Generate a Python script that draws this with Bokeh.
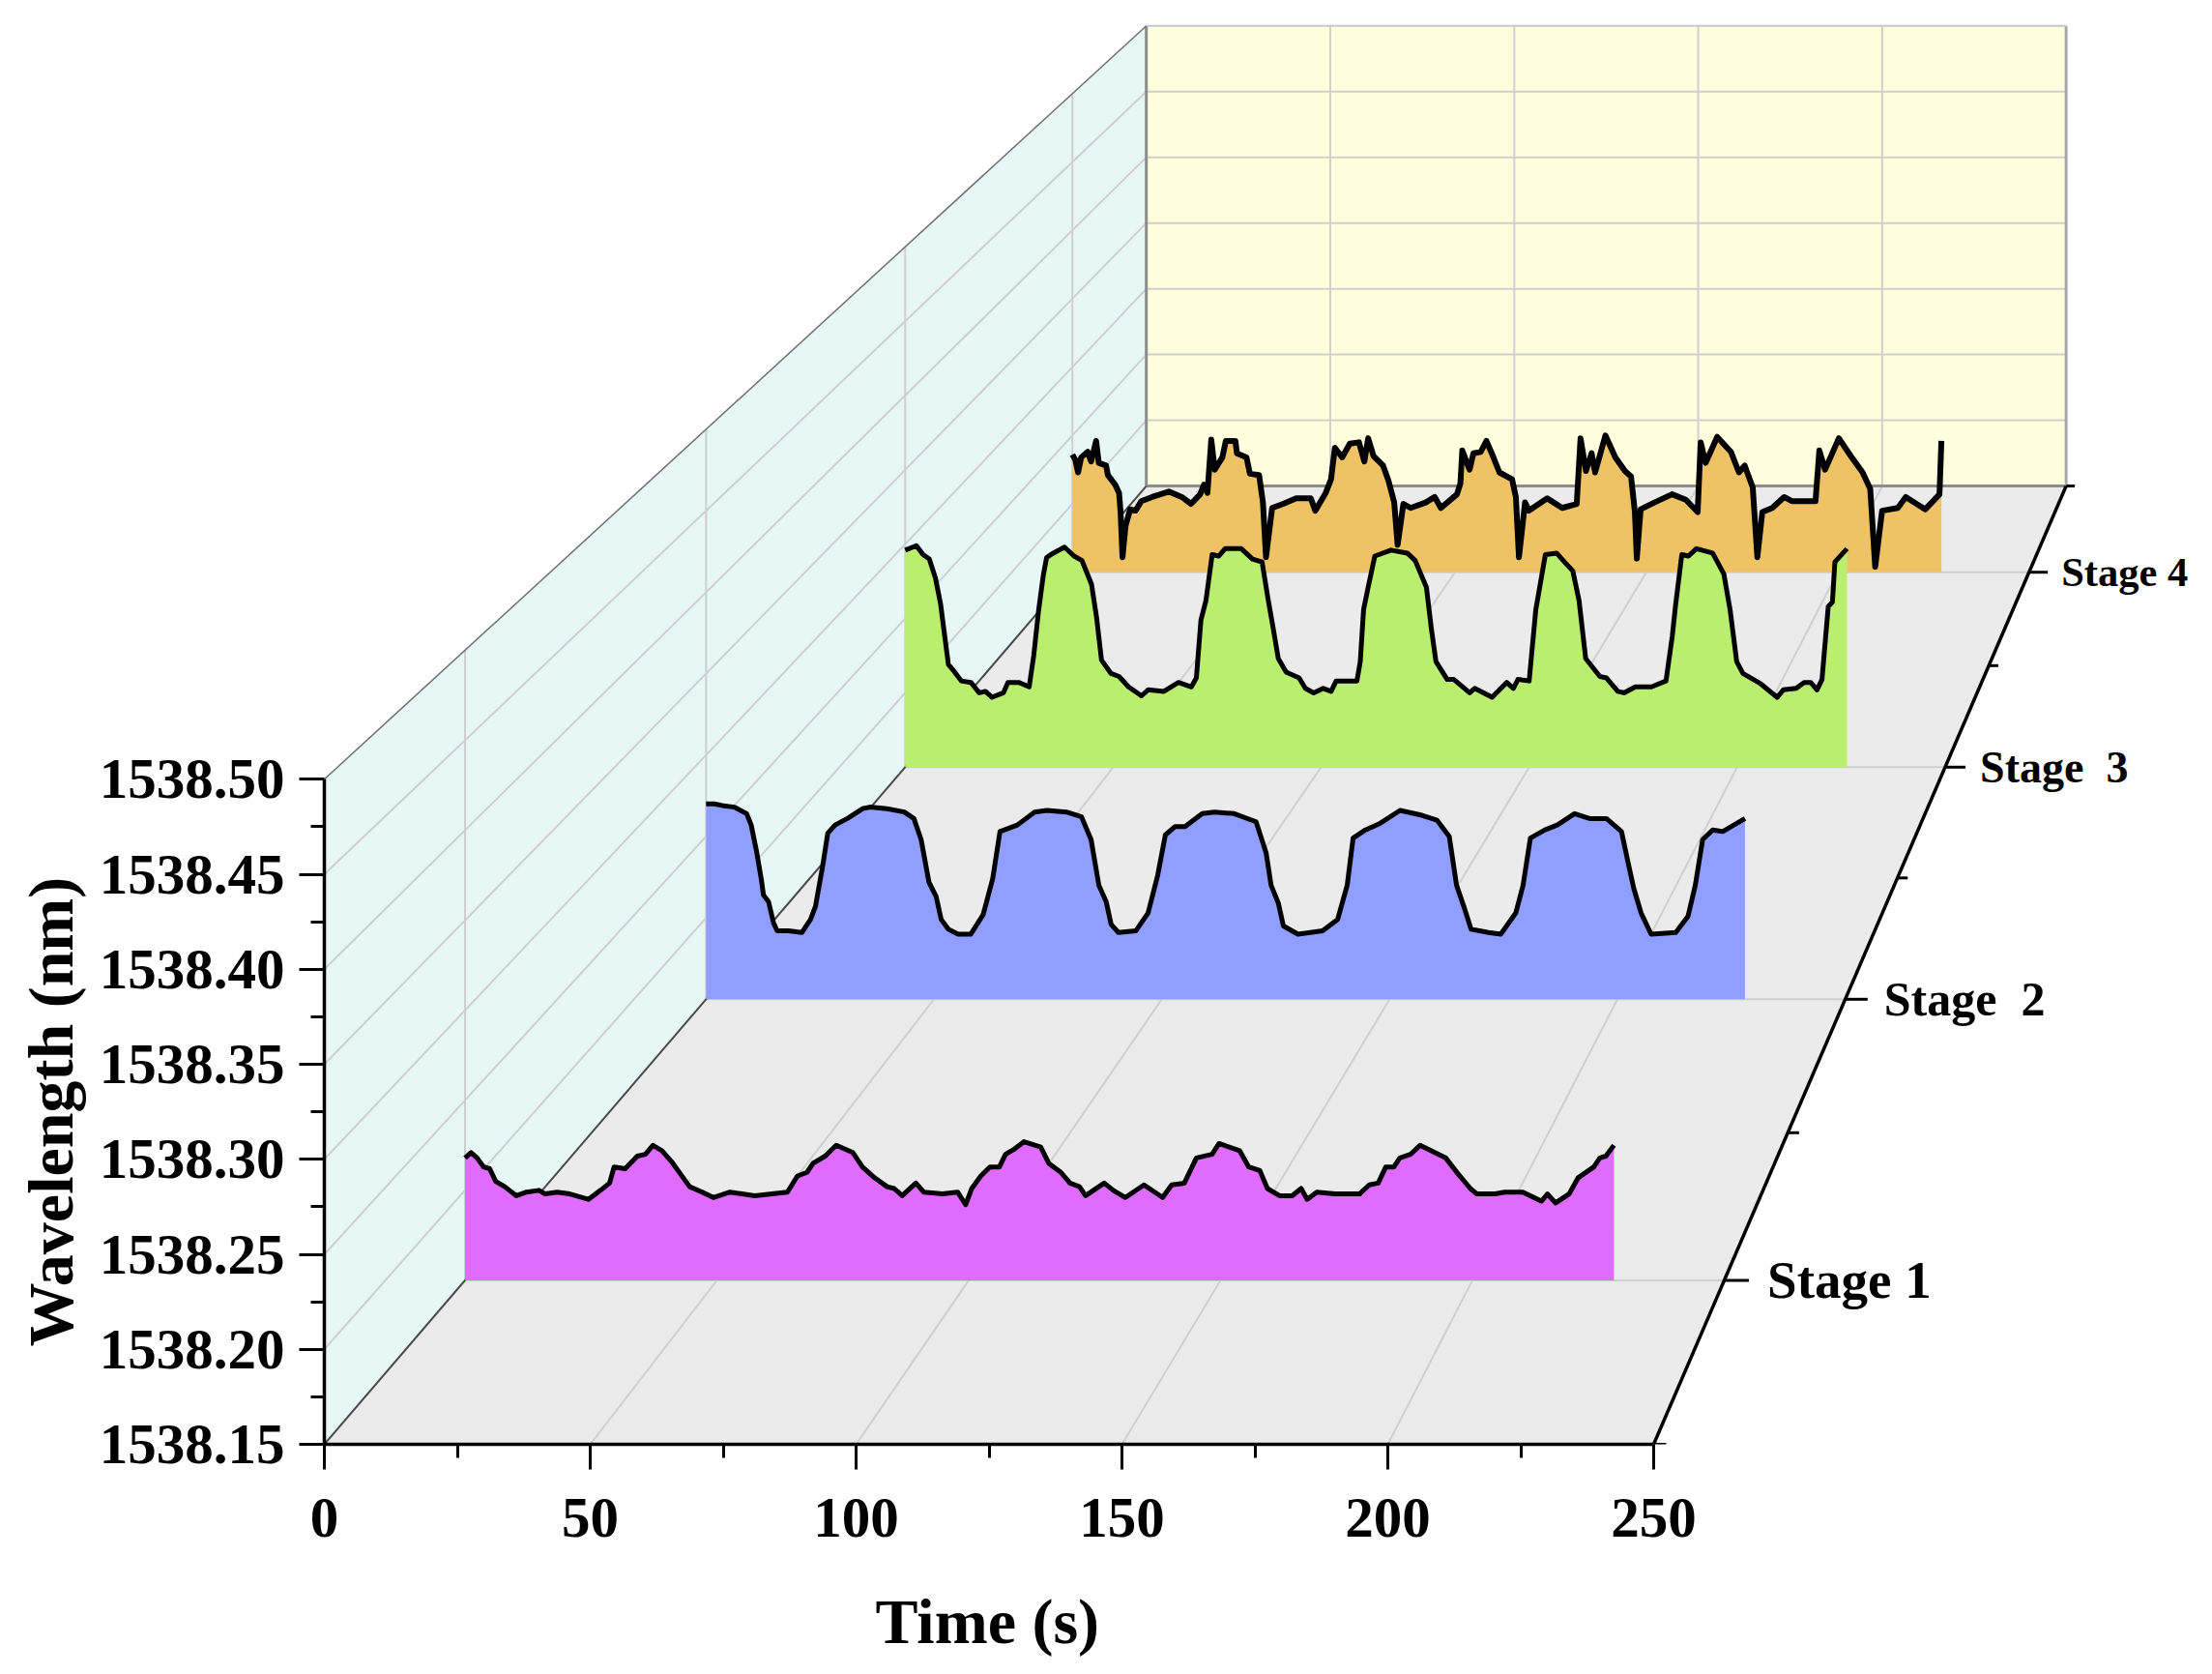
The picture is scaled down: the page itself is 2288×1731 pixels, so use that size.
from bokeh.plotting import figure
from bokeh.models import FixedTicker, PrintfTickFormatter, Title
from bokeh.embed import file_html
from bokeh.resources import INLINE

# Values, one time/wavelength pair per trace
time_stage1 = [
    0, 1.2, 2.4, 3.7, 4.9, 6.1, 7.9, 10.2, 12.2, 14.7, 15.9, 18.3, 20.8, 24.5, 26.9, 28.7, 29.6, 31.8, 34.2, 35.8,
    37.3, 39.1, 41.0, 42.8, 44.6, 47.1, 49.3, 52.6, 55.0, 57.5, 64.0, 66.0, 67.9, 69.1, 71.5, 73.7, 77.0, 78.9, 81.3, 83.8,
    85.2, 86.8, 89.5, 91.1, 94.8, 97.8, 99.4, 100.6, 102.4, 104.2, 106.1, 107.3, 109.1, 111.0, 114.3, 115.9, 118.3, 120.1, 122.0, 123.2,
    126.9, 128.7, 131.1, 134.8, 138.5, 140.3, 142.8, 145.2, 148.3, 149.7, 153.8, 155.6, 157.8, 159.3, 161.7, 164.2, 166.0, 167.2, 169.1, 172.7,
    177.6, 179.5, 181.3, 182.8, 184.4, 185.6, 187.7, 189.6, 194.7, 197.2, 199.6, 200.9, 204.5, 206.4, 210.0, 213.7, 214.9, 216.5, 219.2, 221.0,
    224.1, 225.3, 226.5, 228.1,
]
wave_stage1 = [
    1538.218, 1538.221, 1538.218, 1538.213, 1538.212, 1538.205, 1538.202, 1538.197, 1538.199, 1538.200, 1538.198, 1538.199, 1538.198, 1538.195, 1538.200, 1538.204, 1538.213, 1538.212, 1538.219, 1538.220,
    1538.225, 1538.222, 1538.216, 1538.209, 1538.202, 1538.199, 1538.196, 1538.199, 1538.198, 1538.197, 1538.199, 1538.208, 1538.210, 1538.215, 1538.219, 1538.225, 1538.221, 1538.213, 1538.207, 1538.202,
    1538.201, 1538.197, 1538.204, 1538.199, 1538.198, 1538.199, 1538.192, 1538.201, 1538.208, 1538.213, 1538.213, 1538.220, 1538.223, 1538.227, 1538.224, 1538.215, 1538.210, 1538.204, 1538.202, 1538.197,
    1538.204, 1538.200, 1538.196, 1538.203, 1538.196, 1538.203, 1538.204, 1538.218, 1538.220, 1538.226, 1538.222, 1538.213, 1538.211, 1538.201, 1538.197, 1538.197, 1538.201, 1538.195, 1538.199, 1538.198,
    1538.198, 1538.203, 1538.204, 1538.213, 1538.213, 1538.218, 1538.220, 1538.225, 1538.218, 1538.209, 1538.201, 1538.198, 1538.198, 1538.199, 1538.199, 1538.194, 1538.198, 1538.193, 1538.198, 1538.207,
    1538.213, 1538.218, 1538.219, 1538.225,
]
time_stage2 = [
    0, 1.8, 3.5, 6.2, 8.9, 9.9, 11.0, 12.1, 12.6, 13.7, 14.8, 15.6, 18.1, 21.0, 22.9, 24.0, 25.6, 26.7, 28.3, 31.0,
    34.3, 35.9, 39.7, 43.5, 45.6, 47.2, 48.9, 50.5, 51.6, 53.2, 55.3, 58.1, 60.8, 62.9, 64.5, 68.3, 72.1, 74.8, 79.1, 82.4,
    84.5, 86.2, 87.8, 88.9, 90.5, 94.3, 97.0, 99.1, 100.8, 102.9, 105.1, 108.9, 111.6, 115.9, 120.7, 122.9, 124.0, 125.6, 126.7, 129.9,
    135.3, 138.6, 140.7, 142.0, 144.7, 147.9, 152.3, 157.1, 160.4, 163.1, 164.7, 166.3, 167.9, 171.7, 174.4, 177.7, 179.3, 180.9, 184.1, 186.8,
    190.6, 193.9, 197.6, 200.9, 202.5, 203.6, 205.2, 207.4, 212.8, 215.5, 217.1, 218.7, 220.9, 223.1, 228.0,
]
wave_stage2 = [
    1538.270, 1538.270, 1538.269, 1538.268, 1538.264, 1538.257, 1538.242, 1538.224, 1538.214, 1538.210, 1538.197, 1538.192, 1538.192, 1538.191, 1538.199, 1538.207, 1538.232, 1538.252, 1538.257, 1538.261,
    1538.267, 1538.268, 1538.267, 1538.265, 1538.261, 1538.248, 1538.222, 1538.213, 1538.199, 1538.193, 1538.190, 1538.190, 1538.202, 1538.224, 1538.253, 1538.257, 1538.265, 1538.266, 1538.265, 1538.262,
    1538.248, 1538.220, 1538.210, 1538.196, 1538.191, 1538.192, 1538.203, 1538.226, 1538.251, 1538.256, 1538.256, 1538.264, 1538.265, 1538.264, 1538.259, 1538.240, 1538.220, 1538.209, 1538.195, 1538.190,
    1538.192, 1538.199, 1538.220, 1538.249, 1538.254, 1538.258, 1538.266, 1538.263, 1538.260, 1538.250, 1538.220, 1538.207, 1538.193, 1538.191, 1538.190, 1538.203, 1538.220, 1538.249, 1538.254, 1538.257,
    1538.264, 1538.261, 1538.261, 1538.253, 1538.232, 1538.218, 1538.203, 1538.190, 1538.191, 1538.201, 1538.220, 1538.248, 1538.254, 1538.253, 1538.261,
]
time_stage3 = [
    0, 2.7, 4.3, 5.8, 7.3, 8.5, 9.7, 10.4, 11.9, 13.5, 15.8, 17.8, 19.3, 20.9, 23.6, 24.7, 27.4, 29.8, 30.9, 32.1,
    33.2, 34.0, 35.6, 38.3, 40.6, 42.5, 44.8, 46.0, 47.2, 49.5, 51.4, 53.7, 56.8, 58.4, 62.2, 65.7, 68.8, 70.0, 71.1, 72.3,
    73.8, 75.4, 76.9, 80.8, 83.5, 85.8, 87.3, 88.5, 89.7, 91.6, 94.7, 96.2, 98.2, 100.5, 102.4, 103.6, 108.6, 109.4, 110.2, 111.3,
    112.9, 116.8, 120.7, 122.6, 125.3, 126.5, 127.6, 130.3, 131.9, 135.7, 136.9, 141.1, 144.6, 146.2, 147.3, 150.0, 151.6, 153.9, 156.6, 158.5,
    160.5, 162.0, 163.6, 167.0, 168.6, 171.3, 172.8, 175.5, 179.4, 182.9, 184.4, 185.2, 186.7, 188.3, 190.2, 194.1, 196.8, 198.3, 199.9, 201.4,
    205.7, 209.6, 211.1, 214.2, 216.1, 217.7, 219.2, 220.4, 221.9, 222.9, 223.5, 226.4,
]
wave_stage3 = [
    1538.296, 1538.299, 1538.293, 1538.290, 1538.277, 1538.260, 1538.234, 1538.219, 1538.214, 1538.208, 1538.207, 1538.200, 1538.201, 1538.197, 1538.200, 1538.207, 1538.207, 1538.204, 1538.225, 1538.256,
    1538.279, 1538.291, 1538.294, 1538.298, 1538.292, 1538.289, 1538.273, 1538.251, 1538.222, 1538.213, 1538.211, 1538.204, 1538.198, 1538.202, 1538.201, 1538.207, 1538.204, 1538.210, 1538.249, 1538.262,
    1538.293, 1538.292, 1538.297, 1538.297, 1538.290, 1538.288, 1538.262, 1538.243, 1538.223, 1538.214, 1538.210, 1538.203, 1538.200, 1538.203, 1538.201, 1538.208, 1538.208, 1538.221, 1538.256, 1538.271,
    1538.292, 1538.296, 1538.294, 1538.289, 1538.271, 1538.243, 1538.221, 1538.209, 1538.209, 1538.200, 1538.203, 1538.197, 1538.207, 1538.203, 1538.209, 1538.208, 1538.256, 1538.293, 1538.294, 1538.288,
    1538.282, 1538.262, 1538.223, 1538.211, 1538.210, 1538.201, 1538.200, 1538.204, 1538.204, 1538.208, 1538.238, 1538.259, 1538.293, 1538.292, 1538.297, 1538.294, 1538.280, 1538.256, 1538.221, 1538.213,
    1538.206, 1538.197, 1538.202, 1538.203, 1538.207, 1538.207, 1538.202, 1538.209, 1538.258, 1538.261, 1538.288, 1538.297,
]
time_stage4 = [
    0, 0.8, 1.5, 2.3, 4.0, 4.9, 6.2, 6.9, 8.8, 9.3, 11.2, 12.2, 12.6, 13.1, 13.9, 15.1, 16.5, 18.0, 20.8, 25.2,
    28.6, 31.0, 33.4, 34.4, 35.3, 36.3, 37.2, 39.2, 40.1, 42.6, 43.0, 45.5, 46.4, 48.8, 49.8, 50.6, 52.2, 55.1, 58.5, 62.3,
    63.5, 66.2, 67.6, 68.6, 70.5, 72.5, 74.9, 76.3, 77.3, 78.7, 81.2, 82.6, 84.1, 85.0, 86.5, 88.4, 92.3, 94.7, 96.3, 100.5,
    101.4, 101.9, 103.8, 104.8, 106.7, 108.2, 109.6, 111.6, 114.9, 115.9, 116.7, 118.3, 119.3, 124.1, 128.0, 131.8, 132.8, 134.2, 135.7, 136.6,
    139.3, 141.9, 144.4, 146.0, 147.0, 147.5, 148.5, 152.1, 156.7, 160.3, 163.4, 164.2, 165.5, 168.5, 172.1, 174.2, 175.7, 177.8, 179.0, 180.3,
    182.9, 186.0, 188.0, 194.2, 195.2, 196.7, 200.3, 203.4, 206.5, 208.5, 209.8, 211.6, 215.7, 217.8, 222.9, 226.6, 227.1,
]
wave_stage4 = [
    1538.236, 1538.232, 1538.223, 1538.234, 1538.238, 1538.231, 1538.246, 1538.230, 1538.228, 1538.221, 1538.214, 1538.208, 1538.194, 1538.161, 1538.184, 1538.196, 1538.195, 1538.202, 1538.205, 1538.209,
    1538.205, 1538.200, 1538.207, 1538.214, 1538.208, 1538.247, 1538.225, 1538.234, 1538.246, 1538.246, 1538.237, 1538.234, 1538.222, 1538.221, 1538.201, 1538.161, 1538.197, 1538.200, 1538.204, 1538.204,
    1538.195, 1538.208, 1538.218, 1538.241, 1538.234, 1538.244, 1538.245, 1538.231, 1538.248, 1538.235, 1538.228, 1538.217, 1538.201, 1538.170, 1538.200, 1538.197, 1538.201, 1538.205, 1538.197, 1538.207,
    1538.215, 1538.239, 1538.225, 1538.237, 1538.238, 1538.246, 1538.237, 1538.223, 1538.218, 1538.205, 1538.161, 1538.201, 1538.195, 1538.204, 1538.197, 1538.200, 1538.248, 1538.224, 1538.237, 1538.223,
    1538.250, 1538.234, 1538.224, 1538.220, 1538.194, 1538.160, 1538.196, 1538.201, 1538.207, 1538.203, 1538.194, 1538.245, 1538.230, 1538.249, 1538.238, 1538.223, 1538.228, 1538.212, 1538.161, 1538.194,
    1538.197, 1538.205, 1538.202, 1538.202, 1538.239, 1538.225, 1538.248, 1538.235, 1538.223, 1538.211, 1538.154, 1538.195, 1538.197, 1538.205, 1538.196, 1538.207, 1538.246,
]

stage_names = ["Stage 1", "Stage \u00a02", "Stage \u00a03", "Stage 4"]
stage_depths = [1, 2, 3, 4]
minor_depths = [0.5, 1.5, 2.5, 3.5, 4.5]
time_ticks = [0, 50, 100, 150, 200, 250]
time_minor = [25, 75, 125, 175, 225]
wave_ticks = [1538.15, 1538.20, 1538.25, 1538.30, 1538.35, 1538.40, 1538.45, 1538.50]
wave_minor = [1538.175, 1538.225, 1538.275, 1538.325, 1538.375, 1538.425, 1538.475]

traces = [
    (time_stage4, wave_stage4, "#EFC365", 4, 6),
    (time_stage3, wave_stage3, "#B9EE6E", 3, 5),
    (time_stage2, wave_stage2, "#8F9EFF", 2, 5),
    (time_stage1, wave_stage1, "#E06BFF", 1, 5),
]
label_sizes = ["55px", "50px", "46px", "42.5px"]
label_gaps = [19, 17, 15, 14]

# perspective box: the vanishing point sits in data units, depth runs 0.5..4.5
T0, T1 = time_ticks[0], time_ticks[-1]
W0, W1 = wave_ticks[0], wave_ticks[-1]
D0, D1 = minor_depths[0], minor_depths[-1]
VANISH_T, VANISH_W = 501.8, 1539.787
PERSPECTIVE = 0.1113
PX_PER_S, PX_PER_NM = 5.5, 1965


def project(t, w, depth):
    s = 1 / (1 + PERSPECTIVE * (depth - D0))
    return VANISH_T + (t - VANISH_T) * s, VANISH_W + (w - VANISH_W) * s


def path(points):
    pairs = [project(*pt) for pt in points]
    return [a for a, _ in pairs], [b for _, b in pairs]


LEFT, BOTTOM = 335, 222
WIDTH, HEIGHT = 2272, 1715
p = figure(
    width=WIDTH,
    height=HEIGHT,
    x_range=(0, (WIDTH - LEFT) / PX_PER_S),
    y_range=(W0, W0 + (HEIGHT - BOTTOM) / PX_PER_NM),
    min_border_left=LEFT,
    min_border_right=0,
    min_border_top=0,
    min_border_bottom=BOTTOM,
    output_backend="svg",
    toolbar_location=None,
    tools="",
)
p.outline_line_color = None
p.grid.visible = False

# the three planes
p.patch(*path([(T0, W0, D1), (T1, W0, D1), (T1, W1, D1), (T0, W1, D1)]), fill_color="#FFFFDD", line_color=None)
p.patch(*path([(T0, W0, D0), (T0, W0, D1), (T0, W1, D1), (T0, W1, D0)]), fill_color="#E6F7F6", line_color=None)
p.patch(*path([(T0, W0, D0), (T1, W0, D0), (T1, W0, D1), (T0, W0, D1)]), fill_color="#EBEBEB", line_color=None)

# grid lines on each plane
grid_segments = []
for t in time_ticks[1:-1]:
    grid_segments.append(path([(t, W0, D0), (t, W0, D1)]))
    grid_segments.append(path([(t, W0, D1), (t, W1, D1)]))
for w in wave_ticks[1:-1]:
    grid_segments.append(path([(T0, w, D0), (T0, w, D1)]))
    grid_segments.append(path([(T0, w, D1), (T1, w, D1)]))
for d in stage_depths:
    grid_segments.append(path([(T0, W0, d), (T1, W0, d)]))
    grid_segments.append(path([(T0, W0, d), (T0, W1, d)]))
p.multi_line([g[0] for g in grid_segments], [g[1] for g in grid_segments], line_color="#CFCFCF", line_width=2)

# box edges
p.line(*path([(T0, W0, D1), (T1, W0, D1)]), line_color="#8C8C8C", line_width=3)
p.line(*path([(T0, W0, D1), (T0, W1, D1)]), line_color="#8C8C8C", line_width=3)
p.line(*path([(T1, W0, D1), (T1, W1, D1)]), line_color="#A8A8A8", line_width=3)
p.line(*path([(T0, W1, D1), (T1, W1, D1)]), line_color="#C8C8C8", line_width=2)
p.line(*path([(T0, W1, D0), (T0, W1, D1)]), line_color="#6E6E6E", line_width=1.5)
p.line(*path([(T0, W0, D0), (T0, W0, D1)]), line_color="#4A4A4A", line_width=2)

# stages, back to front
for times, waves, colour, depth, lw in traces:
    xs, ys = path([(t, w, depth) for t, w in zip(times, waves)])
    bx0, by0 = project(times[0], W0, depth)
    bx1, by1 = project(times[-1], W0, depth)
    p.patch([bx0] + xs + [bx1], [by0] + ys + [by1], fill_color=colour, line_color=None)
    p.line(xs, ys, line_color="black", line_width=lw, line_join="round")

# depth axis on the right side of the floor
p.line(*path([(T1, W0, D0), (T1, W0, D1)]), line_color="black", line_width=3.5)
for d in minor_depths:
    x, y = project(T1, W0, d)
    s = 1 / (1 + PERSPECTIVE * (d - D0))
    p.segment(x, y, x + 13 * s / PX_PER_S, y, line_color="black", line_width=3)
for d, name, size, gap in zip(stage_depths, stage_names, label_sizes, label_gaps):
    x, y = project(T1, W0, d)
    s = 1 / (1 + PERSPECTIVE * (d - D0))
    tick = 27 * s
    p.segment(x, y, x + tick / PX_PER_S, y, line_color="black", line_width=3)
    p.text([x], [y], text=[name], x_offset=tick + gap, text_align="left", text_baseline="middle",
           text_font="Liberation Serif", text_font_style="bold", text_font_size=size, text_color="black")

p.xaxis.ticker = FixedTicker(ticks=time_ticks, minor_ticks=time_minor)
p.yaxis.ticker = FixedTicker(ticks=wave_ticks, minor_ticks=wave_minor)
p.yaxis.formatter = PrintfTickFormatter(format="%.2f")
p.xaxis.bounds = (T0, T1)
p.yaxis.bounds = (W0, W1)
for ax in (p.xaxis[0], p.yaxis[0]):
    ax.axis_line_color = "black"
    ax.axis_line_width = 3.5
    ax.major_tick_line_color = "black"
    ax.major_tick_line_width = 3
    ax.minor_tick_line_color = "black"
    ax.minor_tick_line_width = 3
    ax.major_tick_in = 0
    ax.major_tick_out = 26
    ax.minor_tick_in = 0
    ax.minor_tick_out = 14
    ax.major_label_text_font = "Liberation Serif"
    ax.major_label_text_font_style = "bold"
    ax.major_label_text_font_size = "59px"
    ax.major_label_text_color = "black"
p.yaxis.major_label_standoff = 15
p.xaxis.major_label_standoff = 30

# blank label keeps the time title clear of the tick labels without eating into the frame
p.xaxis.axis_label = " "
p.xaxis.axis_label_text_font_size = "30px"
p.xaxis.axis_label_standoff = 10

# axis titles as panel titles, shifted along the frame to the centre of the drawn axis
p.add_layout(Title(text="Time (s)", align="left", offset=570, standoff=0, text_font="Liberation Serif",
                   text_font_style="bold", text_font_size="66px", text_color="black"), "below")
p.add_layout(Title(text="Wavelength (nm)", align="left", offset=101, standoff=22, text_font="Liberation Serif",
                   text_font_style="bold", text_font_size="66px", text_color="black"), "left")

open("out.html", "w").write(file_html(p, INLINE))
